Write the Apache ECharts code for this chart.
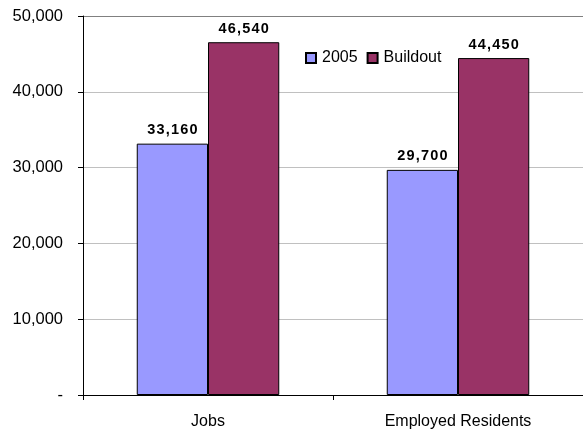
<!DOCTYPE html>
<html><head><meta charset="utf-8">
<script src="https://cdn.jsdelivr.net/npm/echarts@6/dist/echarts.min.js"></script>
<style>html,body{margin:0;padding:0;background:#fff}#c{width:583px;height:433px}</style>
</head><body><div id="c"></div>
<script>
var categories = ['Jobs', 'Employed Residents'];
var series2005 = [33160, 29700];
var seriesBuildout = [46540, 44450];
var seriesNames = ['2005', 'Buildout'];

function fmt(v){ return v === 0 ? '-' : v.toLocaleString('en-US'); }

var FONT = 'Liberation Sans, Arial, sans-serif';
var chart = echarts.init(document.getElementById('c'));
var labelCfg = {
  show: true, position: 'top', distance: 6,
  fontFamily: FONT, fontWeight: 'bold', fontSize: 14.5,
  color: '#000',
  formatter: function(p){ return fmt(p.value).split('').join('\u200A'); }
};
chart.setOption({
  animation: false,
  grid: { left: 83, right: -4, top: 16, bottom: 38 },
  legend: {
    left: 300, top: 45, itemWidth: 10, itemHeight: 10, itemGap: 9,
    icon: 'rect',
    textStyle: { fontFamily: FONT, fontSize: 16, color: '#000', padding: [0, 0, 0, 1] },
    data: seriesNames
  },
  xAxis: {
    type: 'category', data: categories,
    axisLine: { lineStyle: { color: '#000', width: 1 } },
    axisTick: { show: true, length: 5, lineStyle: { color: '#000' } },
    axisLabel: { fontFamily: FONT, fontSize: 16, color: '#000', margin: 19 }
  },
  yAxis: {
    type: 'value', min: 0, max: 50000, interval: 10000,
    axisLine: { show: true, lineStyle: { color: '#000', width: 1 } },
    axisTick: { show: true, length: 5, lineStyle: { color: '#000' } },
    axisLabel: { formatter: fmt, fontFamily: FONT, fontSize: 16.5, color: '#000', margin: 20 },
    splitLine: { lineStyle: { color: ['#c0c0c0','#c0c0c0','#c0c0c0','#c0c0c0','#c0c0c0','#808080'], width: 1 } }
  },
  series: [
    { name: seriesNames[0], type: 'bar', data: series2005, barGap: '0%', barCategoryGap: '43%',
      itemStyle: { color: '#9999FF', borderColor: '#000', borderWidth: 1 }, label: labelCfg },
    { name: seriesNames[1], type: 'bar', data: seriesBuildout, barGap: '0%', barCategoryGap: '43%',
      itemStyle: { color: '#993366', borderColor: '#000', borderWidth: 1 }, label: labelCfg }
  ]
});
</script></body></html>
